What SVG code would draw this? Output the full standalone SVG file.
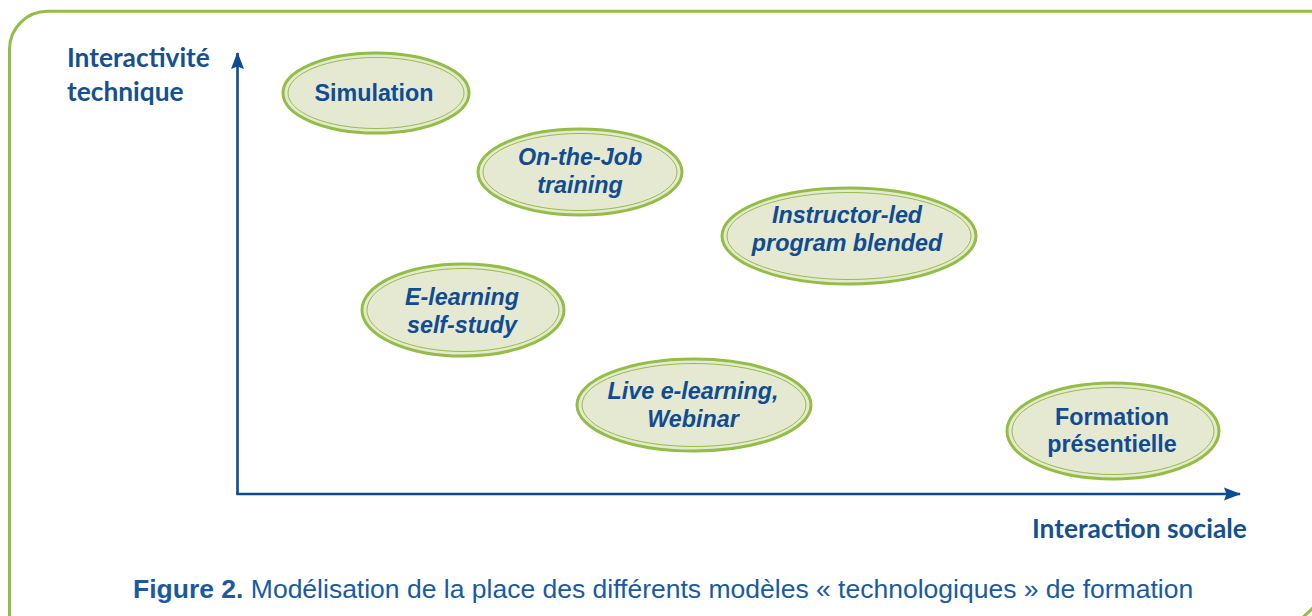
<svg xmlns="http://www.w3.org/2000/svg" width="1312" height="616" viewBox="0 0 1312 616">
<style>
.frame{fill:none;stroke:#93bd47;stroke-width:3}
.axis{fill:none;stroke:#0d4b92;stroke-width:2.6}
.ax-label{font-family:Lato,"Open Sans",sans-serif;font-weight:700;font-size:26.3px;fill:#16508f}
.outer{fill:#e6e9d1;stroke:#93bd47;stroke-width:3}
.inner{fill:none;stroke:#93bd47;stroke-width:1}
.nl{font-family:"Liberation Sans",Arial,sans-serif;font-weight:700;font-size:23.3px;fill:#0f4c92;text-anchor:middle}
.it{font-style:italic}
.cap{font-family:"Liberation Sans",Arial,sans-serif;font-size:26.5px;fill:#1a5aa0}
</style>
<defs>
<marker id="arr" viewBox="0 0 17 14" refX="16" refY="7" markerWidth="17" markerHeight="14" markerUnits="userSpaceOnUse" orient="auto">
<path d="M0,0.5 L17,7 L0,13.5 L2.5,7 Z" fill="#0d4b92"/>
</marker>
</defs>
<path class="frame" d="M9.5 620 V49 A38 38 0 0 1 47.5 11.3 H1316"/>
<path class="frame" d="M1302 618 Q1307 614 1314 607"/>
<g id="connectors">
<path class="axis" d="M237.5 494 V53" marker-end="url(#arr)"/>
<path class="axis" d="M236.2 494 H1240" marker-end="url(#arr)"/>
</g>
<g id="axis-y-label"><text class="ax-label" x="67" y="66.5">Interactivité</text><text class="ax-label" x="67" y="101">technique</text></g>
<g id="axis-x-label"><text class="ax-label" x="1032" y="538">Interaction sociale</text></g>
<g id="simulation">
<ellipse class="outer" cx="376" cy="93" rx="93" ry="40"/>
<ellipse class="inner" cx="376" cy="93" rx="88" ry="35.5"/>
<text class="nl" x="374" y="101">Simulation</text>
</g>
<g id="on-the-job">
<ellipse class="outer" cx="580" cy="172" rx="102" ry="43"/>
<ellipse class="inner" cx="580" cy="172" rx="97" ry="38.5"/>
<text class="nl it" x="580" y="165">On-the-Job</text>
<text class="nl it" x="580" y="193">training</text>
</g>
<g id="instructor-led">
<ellipse class="outer" cx="849" cy="236" rx="127" ry="48"/>
<ellipse class="inner" cx="849" cy="236" rx="122" ry="43.5"/>
<text class="nl it" x="847" y="223">Instructor-led</text>
<text class="nl it" x="847" y="251">program blended</text>
</g>
<g id="e-learning">
<ellipse class="outer" cx="463" cy="310" rx="101" ry="46"/>
<ellipse class="inner" cx="463" cy="310" rx="96" ry="41.5"/>
<text class="nl it" x="462" y="305">E-learning</text>
<text class="nl it" x="462" y="333">self-study</text>
</g>
<g id="live-e-learning">
<ellipse class="outer" cx="694" cy="405" rx="117" ry="46"/>
<ellipse class="inner" cx="694" cy="405" rx="112" ry="41.5"/>
<text class="nl it" x="693" y="399">Live e-learning,</text>
<text class="nl it" x="693" y="427">Webinar</text>
</g>
<g id="formation-presentielle">
<ellipse class="outer" cx="1113" cy="431" rx="106" ry="48"/>
<ellipse class="inner" cx="1113" cy="431" rx="101" ry="43.5"/>
<text class="nl" x="1112" y="425">Formation</text>
<text class="nl" x="1112" y="452">présentielle</text>
</g>
<g id="caption"><text class="cap" x="133" y="598"><tspan style="font-weight:600">Figure 2.</tspan> Modélisation de la place des différents modèles « technologiques » de formation</text></g>
</svg>
